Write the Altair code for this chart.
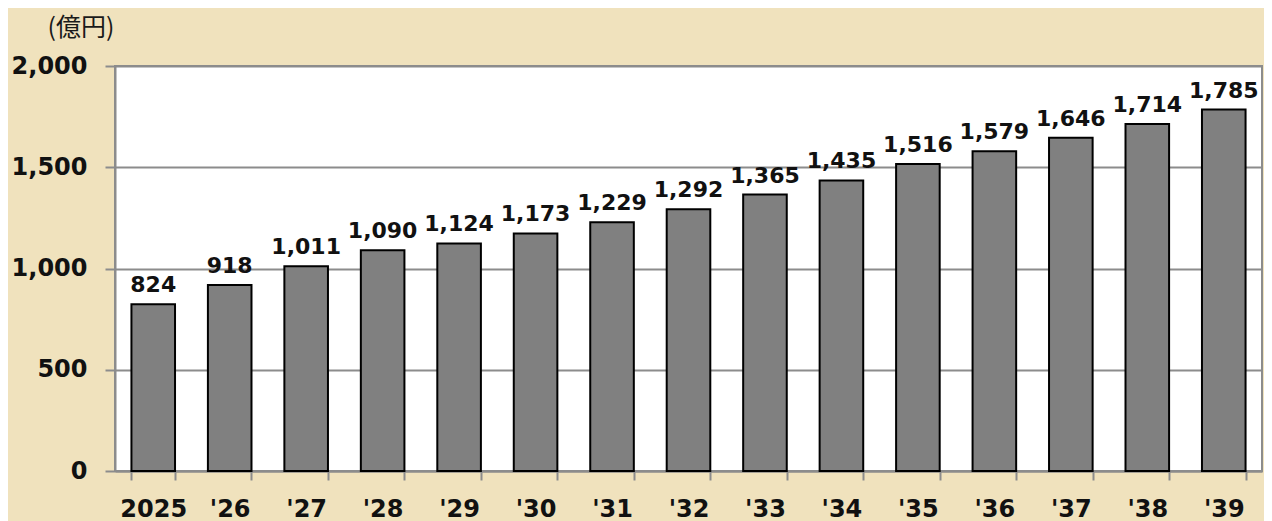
import altair as alt
import pandas as pd

years = ["2025", "'26", "'27", "'28", "'29", "'30", "'31", "'32", "'33", "'34", "'35", "'36", "'37", "'38", "'39"]
values = [824, 918, 1011, 1090, 1124, 1173, 1229, 1292, 1365, 1435, 1516, 1579, 1646, 1714, 1785]
y_ticks = [0, 500, 1000, 1500, 2000]
unit_label = "(億円)"

df = pd.DataFrame({"year": years, "value": values})

x = alt.X("year:N", sort=years, title=None,
          scale=alt.Scale(paddingInner=0.43, paddingOuter=0.215),
          axis=alt.Axis(labelAngle=0, labelFont="DejaVu Sans", labelFontWeight="bold",
                        labelFontSize=24, labelColor="#111111", labelPadding=17,
                        tickBand="extent", tickSize=9, tickWidth=2, tickColor="#8c8c8c",
                        domainColor="#8c8c8c", domainWidth=2, grid=False))
y = alt.Y("value:Q", title=unit_label,
          scale=alt.Scale(domain=[0, 2000], nice=False),
          axis=alt.Axis(values=y_ticks, format=",.0f", labelFont="DejaVu Sans", labelFontWeight="bold",
                        labelFontSize=24, labelColor="#111111", labelPadding=18,
                        tickSize=10, tickWidth=2, tickColor="#8c8c8c",
                        domainColor="#8c8c8c", domainWidth=2,
                        grid=True, gridColor="#8c8c8c", gridWidth=2,
                        titleAngle=0, titleX=-68, titleY=-31, titleAlign="left",
                        titleBaseline="alphabetic", titleFont="Noto Sans CJK JP",
                        titleFontSize=25, titleFontWeight="normal", titleColor="#1a1a1a"))

bars = alt.Chart(df).mark_bar(color="#808080", stroke="#000000", strokeWidth=2).encode(x=x, y=y)
labels = alt.Chart(df).mark_text(font="DejaVu Sans", fontWeight="bold", fontSize=22,
                                 color="#111111", baseline="alphabetic", dy=-12).encode(
    x=alt.X("year:N", sort=years),
    y=alt.Y("value:Q"),
    text=alt.Text("value:Q", format=",.0f"))

chart = alt.layer(bars, labels).properties(
    width=1147, height=405,
    autosize=alt.AutoSizeParams(type="none"),
    padding={"left": 107, "top": 58, "right": 2, "bottom": 50},
    background="#F0E2BD",
).configure_view(fill="#ffffff", stroke="#8c8c8c", strokeWidth=2)

chart.save("out.html", embed_options={"renderer": "svg", "actions": False})
